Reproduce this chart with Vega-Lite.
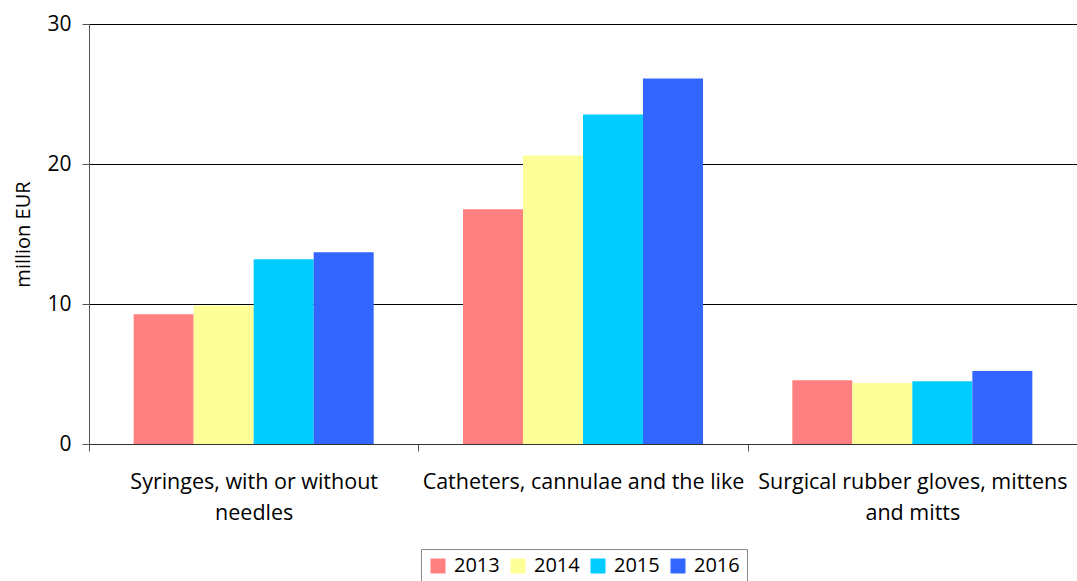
{
  "$schema": "https://vega.github.io/schema/vega-lite/v6.json",
  "autosize": "none",
  "width": 988,
  "height": 420,
  "padding": {"left": 89, "top": 24, "right": 0, "bottom": 137},
  "background": "white",
  "config": {
    "view": {"stroke": null},
    "font": "Open Sans",
    "axis": {"labelFont": "Open Sans", "titleFont": "Open Sans", "labelColor": "#000", "titleColor": "#000"},
    "legend": {"labelFont": "Open Sans", "labelColor": "#000"}
  },
  "data": {
    "values": [
      {"category": "Syringes, with or without needles", "year": "2013", "value": 9.27},
      {"category": "Syringes, with or without needles", "year": "2014", "value": 9.9},
      {"category": "Syringes, with or without needles", "year": "2015", "value": 13.2},
      {"category": "Syringes, with or without needles", "year": "2016", "value": 13.7},
      {"category": "Catheters, cannulae and the like", "year": "2013", "value": 16.76},
      {"category": "Catheters, cannulae and the like", "year": "2014", "value": 20.6},
      {"category": "Catheters, cannulae and the like", "year": "2015", "value": 23.54},
      {"category": "Catheters, cannulae and the like", "year": "2016", "value": 26.1},
      {"category": "Surgical rubber gloves, mittens and mitts", "year": "2013", "value": 4.56},
      {"category": "Surgical rubber gloves, mittens and mitts", "year": "2014", "value": 4.35},
      {"category": "Surgical rubber gloves, mittens and mitts", "year": "2015", "value": 4.49},
      {"category": "Surgical rubber gloves, mittens and mitts", "year": "2016", "value": 5.21}
    ]
  },
  "mark": {"type": "bar"},
  "encoding": {
    "x": {
      "field": "category",
      "type": "nominal",
      "sort": null,
      "scale": {"paddingInner": 0, "paddingOuter": 0},
      "axis": {
        "title": null,
        "labelAngle": 0,
        "labelFontSize": 21.5,
        "labelLineHeight": 31,
        "labelPadding": 31,
        "labelBaseline": "middle",
        "tickBand": "extent",
        "tickSize": 7,
        "tickColor": "#555",
        "domainColor": "#333",
        "labelExpr": "datum.label == 'Syringes, with or without needles' ? ['Syringes, with or without', 'needles'] : datum.label == 'Surgical rubber gloves, mittens and mitts' ? ['Surgical rubber gloves, mittens', 'and mitts'] : datum.label",
        "labelLimit": 400
      }
    },
    "xOffset": {"field": "year", "type": "nominal", "scale": {"paddingInner": 0, "paddingOuter": 0.744}},
    "y": {
      "field": "value",
      "type": "quantitative",
      "scale": {"domain": [0, 30]},
      "axis": {
        "title": "million EUR",
        "titleFontSize": 20,
        "titleFontWeight": "normal",
        "titlePadding": 13,
        "values": [0, 10, 20, 30],
        "labelFontSize": 21,
        "labelPadding": 11,
        "tickSize": 7,
        "tickColor": "#555",
        "domainColor": "#555",
        "gridColor": "#000",
        "gridOpacity": 1
      }
    },
    "color": {
      "field": "year",
      "type": "nominal",
      "scale": {"domain": ["2013", "2014", "2015", "2016"], "range": ["#FF8080", "#FFFF99", "#00CCFF", "#3366FF"]},
      "legend": {
        "title": null,
        "orient": "none",
        "direction": "horizontal",
        "legendX": 332,
        "legendY": 525,
        "symbolType": "square",
        "symbolSize": 225,
        "symbolStrokeWidth": 0,
        "labelFontSize": 20,
        "labelOffset": 6,
        "columnPadding": 8,
        "padding": 7,
        "strokeColor": "#888",
        "fillColor": "white"
      }
    }
  }
}
